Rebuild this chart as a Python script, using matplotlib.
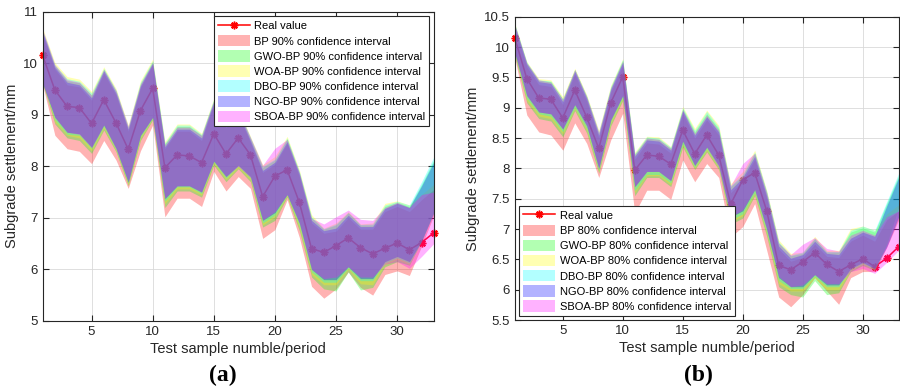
import matplotlib
matplotlib.use('Agg')
import matplotlib.pyplot as plt
from matplotlib.ticker import FormatStrFormatter, MultipleLocator
from matplotlib.patches import Patch
from matplotlib.lines import Line2D

plt.rcParams['font.family'] = ['Liberation Sans', 'DejaVu Sans']

sample_no = list(range(1, 34))
real_value = [10.15, 9.48, 9.16, 9.14, 8.83, 9.29, 8.84, 8.33, 9.08, 9.51, 7.97, 8.22, 8.20, 8.07, 8.63, 8.24,
              8.55, 8.22, 7.41, 7.81, 7.93, 7.30, 6.40, 6.33, 6.46, 6.61, 6.42, 6.30, 6.41, 6.51, 6.38, 6.52, 6.71]

model_names = ['BP', 'GWO-BP', 'WOA-BP', 'DBO-BP', 'NGO-BP', 'SBOA-BP']
model_colors = ['#ff0000', '#00ff00', '#ffff00', '#00ffff', '#0000ff', '#ff00ff']

# ---- 90% confidence interval (a) ----
bp_lo_90 = [9.58, 8.6, 8.34, 8.29, 8.05, 8.5, 8.12, 7.57, 8.3, 8.8, 7.02, 7.38, 7.38, 7.22, 7.9, 7.52, 7.8, 7.57,
            6.6, 6.77, 7.35, 6.62, 5.67, 5.44, 5.62, 5.95, 5.65, 5.5, 5.9, 5.97, 5.88, 6.45, 7.05]
bp_hi_90 = [10.55, 9.88, 9.58, 9.54, 9.28, 9.8, 9.38, 8.68, 9.52, 9.97, 8.34, 8.68, 8.68, 8.5, 9.2, 8.75, 9.0, 8.46,
            7.88, 8.04, 8.44, 7.8, 6.9, 6.7, 6.74, 7.0, 6.78, 6.78, 7.12, 7.22, 7.12, 7.35, 7.55]
gwo_lo_90 = [9.6, 8.82, 8.55, 8.5, 8.25, 8.7, 8.28, 7.62, 8.5, 8.9, 7.2, 7.52, 7.52, 7.4, 8.02, 7.7, 7.95, 7.7,
             6.82, 6.95, 7.4, 6.75, 5.85, 5.62, 5.58, 5.95, 5.6, 5.65, 6.05, 6.15, 6.08, 6.55, 7.1]
gwo_hi_90 = [10.62, 9.95, 9.66, 9.62, 9.38, 9.88, 9.46, 8.75, 9.6, 10.03, 8.43, 8.77, 8.77, 8.6, 9.28, 8.83, 9.09,
             8.54, 7.98, 8.12, 8.53, 7.88, 7.0, 6.78, 6.86, 7.1, 6.86, 6.86, 7.22, 7.3, 7.22, 7.65, 8.12]
woa_lo_90 = [9.62, 8.86, 8.6, 8.55, 8.3, 8.74, 8.3, 7.64, 8.54, 8.92, 7.27, 7.56, 7.56, 7.44, 8.05, 7.74, 7.97, 7.74,
             6.86, 7.02, 7.42, 6.8, 5.9, 5.7, 5.7, 6.0, 5.72, 5.7, 6.1, 6.2, 6.1, 6.55, 7.1]
woa_hi_90 = [10.68, 10.01, 9.74, 9.69, 9.45, 9.93, 9.51, 8.8, 9.66, 10.08, 8.48, 8.82, 8.82, 8.64, 9.32, 8.87, 9.13,
             8.58, 8.03, 8.19, 8.58, 7.93, 7.06, 6.8, 6.9, 7.12, 6.88, 6.9, 7.28, 7.33, 7.25, 7.45, 7.65]
dbo_lo_90 = [9.62, 8.9, 8.62, 8.6, 8.34, 8.77, 8.32, 7.67, 8.57, 8.93, 7.32, 7.6, 7.6, 7.47, 8.08, 7.77, 8.0, 7.77,
             6.9, 7.05, 7.44, 6.85, 5.95, 5.75, 5.75, 6.02, 5.78, 5.78, 6.12, 6.22, 6.12, 6.55, 7.1]
dbo_hi_90 = [10.64, 9.97, 9.7, 9.65, 9.42, 9.9, 9.48, 8.77, 9.63, 10.05, 8.45, 8.8, 8.8, 8.62, 9.3, 8.85, 9.11, 8.56,
             8.0, 8.14, 8.55, 7.9, 7.02, 6.79, 6.88, 7.1, 6.87, 6.88, 7.25, 7.32, 7.25, 7.7, 8.18]
ngo_lo_90 = [9.6, 8.95, 8.66, 8.63, 8.37, 8.8, 8.35, 7.69, 8.6, 8.95, 7.37, 7.62, 7.62, 7.5, 8.1, 7.8, 8.02, 7.8,
             6.95, 7.1, 7.45, 6.9, 6.0, 5.8, 5.8, 6.05, 5.82, 5.82, 6.15, 6.25, 6.15, 6.55, 7.1]
ngo_hi_90 = [10.6, 9.92, 9.63, 9.58, 9.33, 9.85, 9.42, 8.72, 9.56, 10.0, 8.38, 8.72, 8.72, 8.55, 9.25, 8.8, 9.05, 8.5,
             7.92, 8.08, 8.48, 7.85, 6.95, 6.75, 6.8, 7.05, 6.83, 6.83, 7.18, 7.28, 7.2, 7.62, 8.08]
sboa_lo_90 = [9.62, 8.95, 8.66, 8.62, 8.36, 8.8, 8.34, 7.7, 8.6, 8.95, 7.38, 7.62, 7.62, 7.5, 8.1, 7.8, 8.0, 7.78,
              6.96, 7.12, 7.45, 6.9, 6.0, 5.82, 5.85, 6.05, 5.85, 5.85, 6.1, 6.15, 6.02, 6.25, 6.5]
sboa_hi_90 = [10.65, 9.97, 9.68, 9.63, 9.38, 9.88, 9.47, 8.78, 9.6, 10.02, 8.42, 8.76, 8.76, 8.6, 9.28, 8.84, 9.1,
              8.56, 8.02, 8.35, 8.52, 7.88, 6.99, 6.88, 7.02, 7.15, 6.97, 6.95, 7.2, 7.3, 7.2, 7.45, 7.5]

# ---- 80% confidence interval (b) ----
bp_lo_80 = [9.82, 8.88, 8.6, 8.55, 8.3, 8.75, 8.41, 7.85, 8.47, 8.91, 7.26, 7.64, 7.64, 7.49, 8.14, 7.78, 8.08, 7.85,
            6.87, 7.04, 7.42, 6.65, 5.88, 5.72, 5.92, 6.2, 5.98, 5.76, 6.2, 6.3, 6.3, 6.7, 7.15]
bp_hi_80 = [10.3, 9.67, 9.38, 9.35, 9.05, 9.55, 9.1, 8.5, 9.25, 9.7, 8.15, 8.42, 8.4, 8.25, 8.9, 8.5, 8.8, 8.55,
            7.6, 7.8, 8.15, 7.5, 6.67, 6.47, 6.53, 6.75, 6.55, 6.53, 6.8, 6.9, 6.8, 7.15, 7.3]
gwo_lo_80 = [9.85, 9.08, 8.82, 8.78, 8.52, 8.95, 8.58, 7.92, 8.7, 9.12, 7.55, 7.85, 7.85, 7.7, 8.35, 7.98, 8.27, 7.98,
             7.08, 7.18, 7.55, 6.88, 6.05, 5.92, 5.88, 6.15, 5.92, 5.95, 6.3, 6.4, 6.32, 6.75, 7.35]
gwo_hi_80 = [10.37, 9.74, 9.45, 9.43, 9.14, 9.63, 9.18, 8.58, 9.33, 9.78, 8.23, 8.5, 8.48, 8.33, 8.98, 8.6, 8.9, 8.65,
             7.7, 7.88, 8.25, 7.6, 6.77, 6.56, 6.6, 6.84, 6.62, 6.62, 6.95, 7.02, 6.95, 7.42, 7.88]
woa_lo_80 = [9.87, 9.12, 8.86, 8.82, 8.57, 8.98, 8.62, 7.95, 8.74, 9.15, 7.6, 7.88, 7.88, 7.73, 8.38, 8.0, 8.3, 8.0,
             7.12, 7.22, 7.58, 6.92, 6.1, 5.98, 5.98, 6.2, 6.0, 6.0, 6.32, 6.42, 6.33, 6.72, 7.2]
woa_hi_80 = [10.39, 9.76, 9.48, 9.46, 9.18, 9.65, 9.21, 8.63, 9.37, 9.81, 8.27, 8.53, 8.52, 8.36, 9.02, 8.66, 8.96,
             8.71, 7.75, 7.95, 8.3, 7.64, 6.82, 6.6, 6.62, 6.88, 6.65, 6.65, 7.01, 7.05, 6.98, 7.25, 7.4]
dbo_lo_80 = [9.88, 9.15, 8.9, 8.86, 8.6, 9.0, 8.65, 7.97, 8.77, 9.17, 7.63, 7.9, 7.9, 7.76, 8.4, 8.02, 8.32, 8.02,
             7.15, 7.25, 7.6, 6.95, 6.15, 6.02, 6.02, 6.22, 6.05, 6.05, 6.33, 6.43, 6.34, 6.72, 7.2]
dbo_hi_80 = [10.38, 9.75, 9.46, 9.44, 9.15, 9.63, 9.19, 8.6, 9.35, 9.8, 8.25, 8.52, 8.5, 8.35, 9.0, 8.63, 8.94, 8.68,
             7.72, 7.9, 8.27, 7.62, 6.79, 6.57, 6.62, 6.85, 6.63, 6.63, 6.98, 7.05, 6.98, 7.45, 7.92]
ngo_lo_80 = [9.9, 9.2, 8.93, 8.9, 8.65, 9.05, 8.7, 8.0, 8.8, 9.2, 7.7, 7.95, 7.95, 7.8, 8.45, 8.05, 8.35, 8.05,
             7.2, 7.3, 7.65, 7.0, 6.2, 6.05, 6.05, 6.25, 6.08, 6.08, 6.35, 6.45, 6.35, 6.7, 7.2]
ngo_hi_80 = [10.35, 9.72, 9.43, 9.4, 9.1, 9.6, 9.15, 8.55, 9.3, 9.75, 8.2, 8.47, 8.45, 8.3, 8.95, 8.55, 8.85, 8.6,
             7.65, 7.85, 8.2, 7.55, 6.72, 6.52, 6.58, 6.8, 6.6, 6.58, 6.85, 6.95, 6.88, 7.38, 7.85]
sboa_lo_80 = [9.9, 9.2, 8.93, 8.9, 8.65, 9.05, 8.7, 8.0, 8.8, 9.2, 7.7, 7.95, 7.95, 7.8, 8.45, 8.05, 8.35, 8.02,
              7.2, 7.32, 7.65, 7.0, 6.22, 6.05, 6.08, 6.25, 6.1, 6.1, 6.3, 6.35, 6.27, 6.45, 6.65]
sboa_hi_80 = [10.37, 9.74, 9.46, 9.42, 9.14, 9.63, 9.18, 8.6, 9.33, 9.77, 8.23, 8.5, 8.48, 8.33, 8.97, 8.58, 8.88,
              8.63, 7.72, 8.08, 8.25, 7.6, 6.77, 6.58, 6.75, 6.86, 6.68, 6.64, 6.9, 6.98, 6.9, 7.2, 7.3]

bands_90 = [(bp_lo_90, bp_hi_90), (gwo_lo_90, gwo_hi_90), (woa_lo_90, woa_hi_90),
            (dbo_lo_90, dbo_hi_90), (ngo_lo_90, ngo_hi_90), (sboa_lo_90, sboa_hi_90)]
bands_80 = [(bp_lo_80, bp_hi_80), (gwo_lo_80, gwo_hi_80), (woa_lo_80, woa_hi_80),
            (dbo_lo_80, dbo_hi_80), (ngo_lo_80, ngo_hi_80), (sboa_lo_80, sboa_hi_80)]

asterisk = (8, 2, 0)
edge = '#262626'


def plotter(ax, bands, level, ylim, ystep, legend_loc):
    ax.plot(sample_no, real_value, color='red', lw=1.1, marker=asterisk, ms=5.5, mew=1.1, zorder=1, clip_on=False)
    for (lo, hi), c in zip(bands, model_colors):
        ax.fill_between(sample_no, lo, hi, color=c, alpha=0.3, lw=0, zorder=2)
    ax.set_xlim(1, 33)
    ax.set_ylim(*ylim)
    ax.xaxis.set_major_locator(MultipleLocator(5))
    ax.yaxis.set_major_locator(MultipleLocator(ystep))
    ax.yaxis.set_major_formatter(FormatStrFormatter('%g'))
    ax.grid(True, color='#d9d9d9', lw=0.6)
    ax.set_axisbelow(True)
    ax.tick_params(direction='in', top=True, right=True, length=4, labelsize=9.5, colors=edge, labelcolor=edge)
    for s in ax.spines.values():
        s.set_color(edge)
        s.set_linewidth(0.8)
    ax.set_xlabel('Test sample numble/period', fontsize=10.5, color=edge, labelpad=3)
    ax.set_ylabel('Subgrade settlement/mm', fontsize=10.5, color=edge, labelpad=3)

    handles = [Line2D([], [], color='red', lw=1.1, marker=asterisk, ms=5.5, mew=1.1)]
    labels = ['Real value']
    for name, c in zip(model_names, model_colors):
        handles.append(Patch(facecolor=c, alpha=0.3, edgecolor='none'))
        labels.append(name + ' ' + level + ' confidence interval')
    leg = ax.legend(handles, labels, loc=legend_loc, fontsize=8.0, fancybox=False, framealpha=1,
                    edgecolor=edge, handlelength=2.9, handleheight=1.2, labelspacing=0.33,
                    handletextpad=0.4, borderpad=0.35, borderaxespad=0.4)
    leg.get_frame().set_linewidth(0.8)
    leg.set_zorder(5)


fig = plt.figure(figsize=(9, 3.88), dpi=100)
ax1 = fig.add_axes([0.0474, 0.173, 0.4346, 0.797])
ax2 = fig.add_axes([0.572, 0.175, 0.4265, 0.782])

plotter(ax1, bands_90, '90%', (5, 11), 1, 'upper right')
plotter(ax2, bands_80, '80%', (5.5, 10.5), 0.5, 'lower left')

fig.text(0.248, 0.018, '(a)', fontsize=17, fontweight='bold', family='Liberation Serif', ha='center')
fig.text(0.776, 0.018, '(b)', fontsize=17, fontweight='bold', family='Liberation Serif', ha='center')

fig.savefig('out.png', dpi=100)
